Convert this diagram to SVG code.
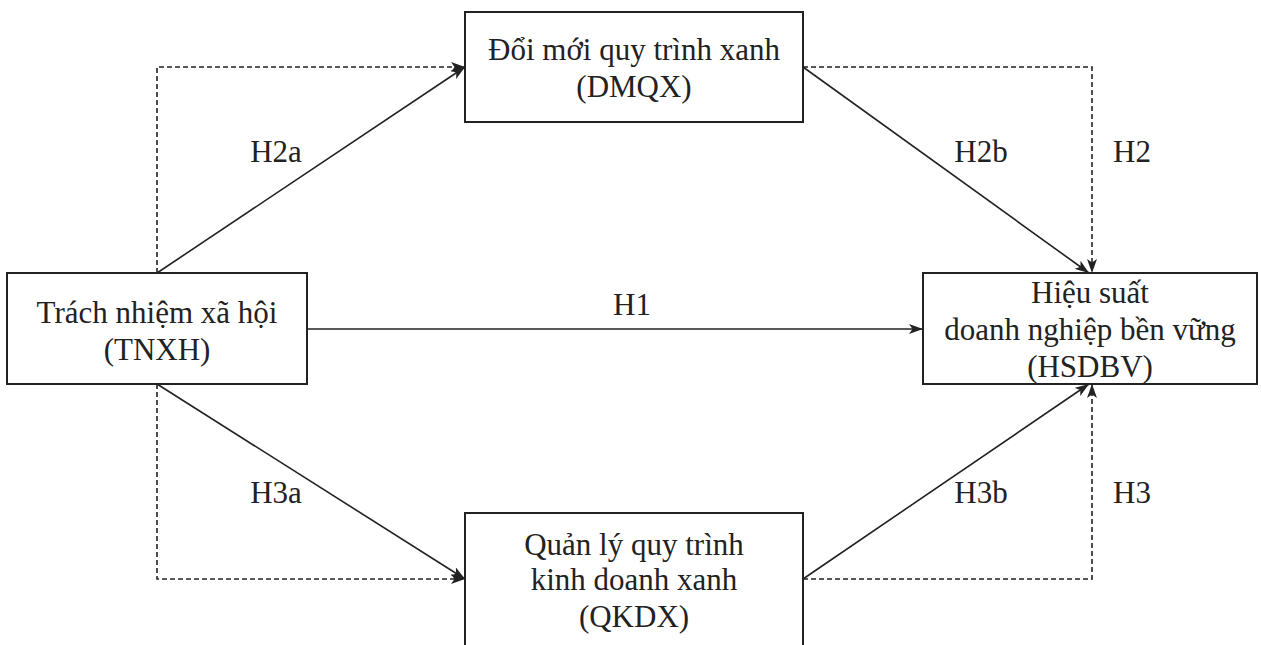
<svg xmlns="http://www.w3.org/2000/svg" width="1261" height="645" viewBox="0 0 1261 645">
<style>
.box{fill:#fff;stroke:#222;stroke-width:2}
.t{font-family:'Liberation Serif','Times New Roman',serif;font-size:31px;fill:#222;text-anchor:middle}
.s{fill:none;stroke:#222;stroke-width:1.6}
.d{fill:none;stroke:#222;stroke-width:1.6;stroke-dasharray:5,3}
</style>
<defs>
<marker id="ah" viewBox="0 0 14 10" refX="14" refY="5" markerWidth="14" markerHeight="10" markerUnits="userSpaceOnUse" orient="auto">
<path d="M0,0 L14,5 L0,10 L3.5,5 z" fill="#222"/>
</marker>
</defs>
<rect width="1261" height="645" fill="#fff"/>
<g id="connectors">
<polyline class="d" points="157,273 157,67 465,67" marker-end="url(#ah)"/>
<polyline class="d" points="803,67 1092,67 1092,273" marker-end="url(#ah)"/>
<polyline class="d" points="157,384 157,579 465,579" marker-end="url(#ah)"/>
<polyline class="d" points="803,579 1092,579 1092,384" marker-end="url(#ah)"/>
<line class="s" x1="157" y1="273" x2="465" y2="67" marker-end="url(#ah)"/>
<line class="s" x1="803" y1="67" x2="1089" y2="273" marker-end="url(#ah)"/>
<line class="s" x1="307" y1="329" x2="923" y2="329" marker-end="url(#ah)"/>
<line class="s" x1="157" y1="384" x2="465" y2="579" marker-end="url(#ah)"/>
<line class="s" x1="803" y1="579" x2="1089" y2="384" marker-end="url(#ah)"/>
<g font-family="Liberation Serif, Times New Roman, serif">
<text class="t" x="276" y="162">H2a</text>
<text class="t" x="981" y="162">H2b</text>
<text class="t" x="1132" y="162">H2</text>
<text class="t" x="632" y="315">H1</text>
<text class="t" x="276" y="503">H3a</text>
<text class="t" x="981" y="503">H3b</text>
<text class="t" x="1132" y="503">H3</text>
</g>
</g>
<g id="DMQX">
<rect class="box" x="465" y="12" width="338" height="110"/>
<text class="t" x="634" y="60">Đổi mới quy trình xanh</text>
<text class="t" x="634" y="97">(DMQX)</text>
</g>
<g id="TNXH">
<rect class="box" x="7" y="273" width="300" height="111"/>
<text class="t" x="157" y="323">Trách nhiệm xã hội</text>
<text class="t" x="157" y="360">(TNXH)</text>
</g>
<g id="HSDBV">
<rect class="box" x="923" y="273" width="334" height="111"/>
<text class="t" x="1090" y="303">Hiệu suất</text>
<text class="t" x="1090" y="340">doanh nghiệp bền vững</text>
<text class="t" x="1090" y="377">(HSDBV)</text>
</g>
<g id="QKDX">
<rect class="box" x="465" y="513" width="338" height="140"/>
<text class="t" x="634" y="555">Quản lý quy trình</text>
<text class="t" x="634" y="590">kinh doanh xanh</text>
<text class="t" x="634" y="627">(QKDX)</text>
</g>
</svg>
